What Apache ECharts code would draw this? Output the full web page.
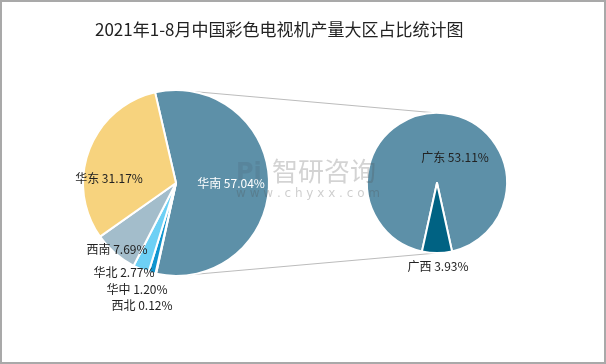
<!DOCTYPE html>
<html>
<head>
<meta charset="utf-8">
<script src="https://cdn.jsdelivr.net/npm/echarts@6/dist/echarts.min.js"></script>
<style>
html,body{margin:0;padding:0;background:#fff;}
#c{width:606px;height:364px;}
</style>
</head>
<body>
<div id="c"></div>
<script>
// ---- data ----
var titleText = '2021年1-8月中国彩色电视机产量大区占比统计图';
var regionNames = ['华南', '西北', '华中', '华北', '西南', '华东'];
var regionValues = [57.04, 0.12, 1.20, 2.77, 7.69, 31.17];
var provinceNames = ['广东', '广西'];
var provinceValues = [53.11, 3.93];

// ---- styles / layout ----
var regionColors = ['#5d90a8', '#1d5f99', '#0f95cf', '#6dd0f5', '#a3bdcb', '#f7d37e'];
var provinceColors = ['#5d90a8', '#006283'];
var regionLabelPos = [[231,183],[142,305],[137,289],[124,272],[117,249],[109,178]];
var provinceLabelPos = [[455,157],[438,266]];
var L = {cx:176, cy:183, r:93};
var R = {cx:437, cy:183, r:70};
var font = '"Noto Sans CJK SC", "Microsoft YaHei", sans-serif';

var chart = echarts.init(document.getElementById('c'), null, {renderer:'canvas'});

function mk(names, vals, colors){
  return names.map(function(n,i){
    return {name:n, value:vals[i], itemStyle:{color:colors[i]}};
  });
}
function fmt(p){ return p.name + ' ' + Number(p.value).toFixed(2) + '%'; }

var regionData = mk(regionNames, regionValues, regionColors);
regionData[0].label = {color:'#ffffff'};

chart.setOption({
  backgroundColor:'#ffffff',
  animation:false,
  title:{
    text:titleText, left:90, top:16,
    textStyle:{fontFamily:font, fontSize:17, fontWeight:'normal', color:'#222'}
  },
  graphic:[
    {type:'rect', z:0, shape:{x:1,y:1,width:604,height:362}, style:{fill:'none', stroke:'#a9a9a9', lineWidth:2}},
    {type:'line', z:0, shape:{x1:L.cx, y1:L.cy-L.r, x2:R.cx, y2:R.cy-R.r}, style:{stroke:'#bcbcbc', lineWidth:1.2}},
    {type:'line', z:0, shape:{x1:L.cx, y1:L.cy+L.r, x2:R.cx, y2:R.cy+R.r}, style:{stroke:'#bcbcbc', lineWidth:1.2}},
    {type:'text', z:100, left:236, top:162, style:{text:'Pi', font:'bold 24px "DejaVu Sans"', fill:'rgba(70,90,110,0.2)'}},
    {type:'text', z:100, left:272, top:158, style:{text:'智研咨询', font:'26px '+font, fill:'rgba(80,80,80,0.25)'}},
    {type:'text', z:100, left:236, top:188, style:{text:'w w w . c h y x x . c o m', font:'12px "DejaVu Sans"', fill:'rgba(80,80,80,0.28)'}}
  ],
  series:[
    {
      type:'pie', center:[L.cx, L.cy], radius:L.r, startAngle:103, clockwise:true,
      avoidLabelOverlap:false,
      itemStyle:{borderColor:'#fff', borderWidth:2},
      label:{show:true, position:'inside', formatter:fmt, fontFamily:font, fontSize:12, color:'#222'},
      labelLine:{show:false},
      labelLayout:function(p){ var q=regionLabelPos[p.dataIndex]; return {x:q[0], y:q[1], align:'center', verticalAlign:'middle'}; },
      emphasis:{disabled:true},
      data:regionData
    },
    {
      type:'pie', center:[R.cx, R.cy], radius:R.r, startAngle:257.6, clockwise:true,
      avoidLabelOverlap:false,
      itemStyle:{borderColor:'#fff', borderWidth:2},
      label:{show:true, position:'inside', formatter:fmt, fontFamily:font, fontSize:12, color:'#222'},
      labelLine:{show:false},
      labelLayout:function(p){ var q=provinceLabelPos[p.dataIndex]; return {x:q[0], y:q[1], align:'center', verticalAlign:'middle'}; },
      emphasis:{disabled:true},
      data:mk(provinceNames, provinceValues, provinceColors)
    }
  ]
});
</script>
</body>
</html>
